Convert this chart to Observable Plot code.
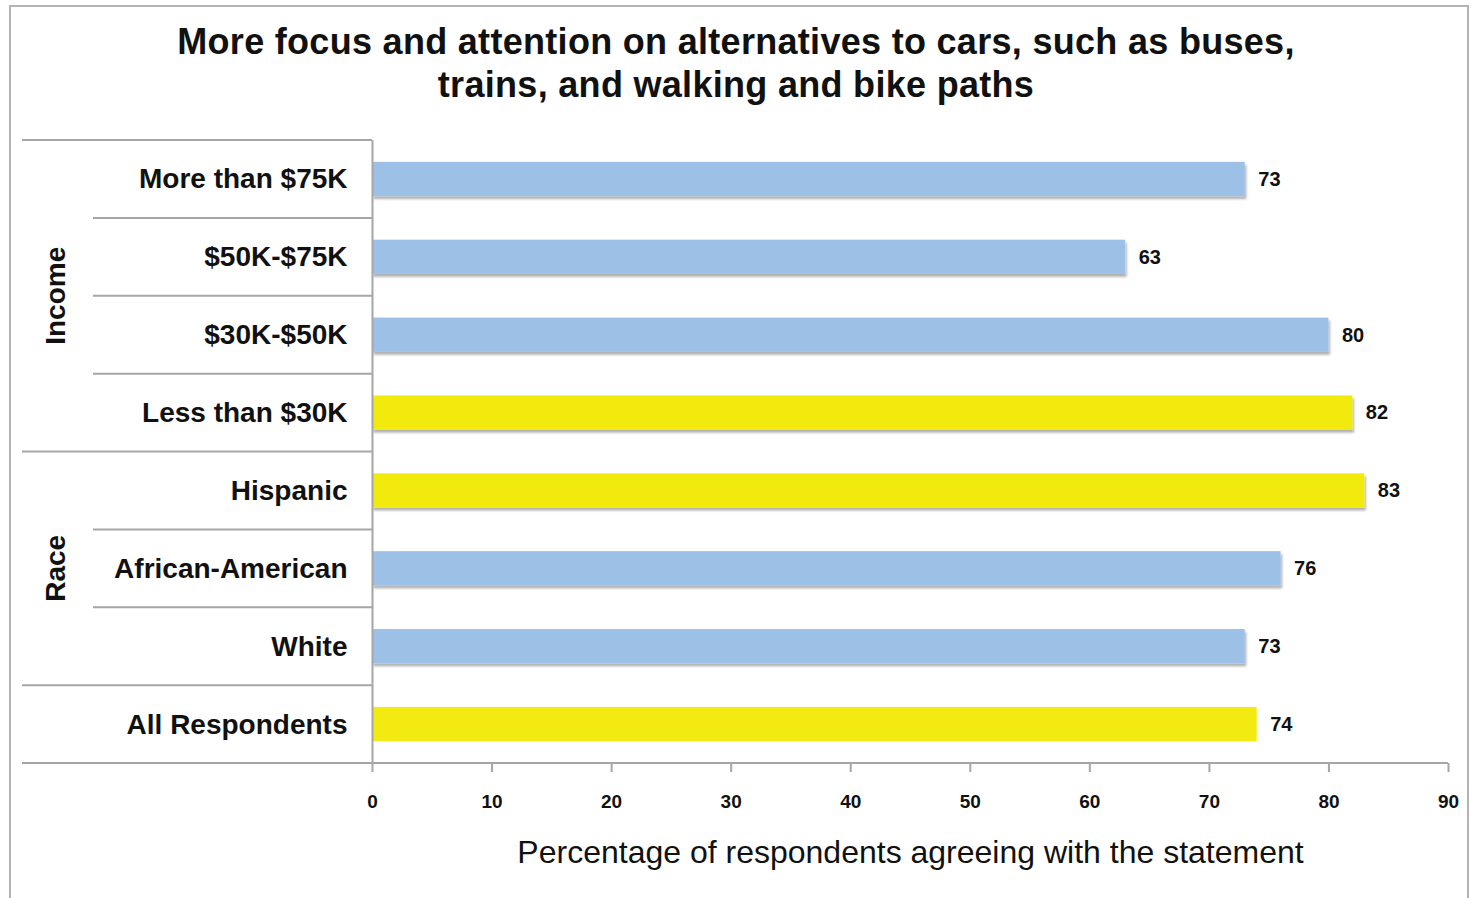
<!DOCTYPE html>
<html>
<head>
<meta charset="utf-8">
<script src="https://cdn.jsdelivr.net/npm/d3@7"></script>
<script src="https://cdn.jsdelivr.net/npm/@observablehq/plot@0.6"></script>
<style>
  html, body { margin: 0; padding: 0; background: #fff; width: 1472px; height: 898px; overflow: hidden; }
  #frame { position: absolute; left: 9px; top: 5px; width: 1460px; height: 920px; border: 2px solid #b4b4b4; box-sizing: border-box; }
  #title { position: absolute; left: 0; top: 20px; width: 1472px; text-align: center;
           font-family: "Liberation Sans", Arial, sans-serif; font-weight: bold; font-size: 36px; line-height: 43px; color: #111; letter-spacing: 0.3px; }
  #chart { position: absolute; left: 0; top: 120px; }
</style>
</head>
<body>
<div id="frame"></div>
<div id="title">More focus and attention on alternatives to cars, such as buses,<br>trains, and walking and bike paths</div>
<div id="chart"></div>
<script>
const categories = ["More than $75K", "$50K-$75K", "$30K-$50K", "Less than $30K", "Hispanic", "African-American", "White", "All Respondents"];
const values = [73, 63, 80, 82, 83, 76, 73, 74];
const highlighted = [false, false, false, true, true, false, false, true];
const groups = ["Income", "Income", "Income", "Income", "Race", "Race", "Race", ""];
const xTicks = [0, 10, 20, 30, 40, 50, 60, 70, 80, 90];
const xLabel = "Percentage of respondents agreeing with the statement";

const BLUE = "#9dc1e6";
const YELLOW = "#f2ea10";
const GRID = "#a6a6a6";

const data = categories.map((c, i) => ({category: c, value: values[i], hi: highlighted[i], group: groups[i]}));

const plot = Plot.plot({
  width: 1472,
  height: 778,
  marginTop: 20,
  marginBottom: 135,
  marginLeft: 372,
  marginRight: 24,
  style: {fontFamily: "'Liberation Sans', Arial, sans-serif", color: "#111", background: "transparent"},
  x: {domain: [0, 90]},
  y: {domain: categories, paddingInner: 0.56, paddingOuter: 0.28, round: false},
  marks: [
    Plot.barX(data, {x: "value", y: "category", fill: d => d.hi ? YELLOW : BLUE, className: "bars"}),
    Plot.text(data, {x: "value", y: "category", text: d => String(d.value), dx: 13, textAnchor: "start",
      fontSize: 20, fontWeight: "bold", fill: "#111"}),
    Plot.ruleX([0], {stroke: GRID, strokeWidth: 2}),
    Plot.axisX({ticks: xTicks, tickSize: 9, tickPadding: 22, stroke: GRID, strokeWidth: 2,
      fontSize: 19, fontWeight: "bold", label: xLabel, labelAnchor: "center", labelOffset: 99, labelArrow: "none"}),
    Plot.axisY({tickSize: 0, tickPadding: 25, fontSize: 28, fontWeight: "bold", label: null})
  ]
});

document.getElementById("chart").appendChild(plot);

const svg = d3.select(plot);
svg.select('g[aria-label="x-axis label"]').selectAll("text")
  .attr("font-size", 32).attr("font-weight", "normal").attr("fill", "#111");

// bar shadow
const defs = svg.insert("defs", ":first-child");
const f = defs.append("filter").attr("id", "shadow").attr("x", "-5%").attr("y", "-30%").attr("width", "110%").attr("height", "170%");
f.append("feDropShadow").attr("dx", 1.5).attr("dy", 3).attr("stdDeviation", 1.2).attr("flood-color", "#000").attr("flood-opacity", 0.3);
svg.selectAll("g.bars rect").filter(d => data[d] && data[d].group !== "").attr("filter", "url(#shadow)");

// separators and group labels from the y scale
const ys = plot.scale("y");
const step = ys.step;
const center = c => ys.apply(c) + ys.bandwidth / 2;
const bounds = categories.map(c => center(c) - step / 2).concat([center(categories[categories.length - 1]) + step / 2]);
const xs = plot.scale("x");
const lines = svg.append("g").attr("stroke", GRID).attr("stroke-width", 2);
bounds.forEach((b, i) => {
  const groupEdge = i === 0 || i === bounds.length - 1 || groups[i] !== groups[i - 1];
  const x1 = groupEdge ? 22 : 93;
  const x2 = i === bounds.length - 1 ? xs.apply(90) : xs.apply(0);
  lines.append("line").attr("x1", x1).attr("x2", x2).attr("y1", b).attr("y2", b);
});
svg.selectAll('g[aria-label="x-axis tick"] path').attr("stroke", GRID);

const groupNames = Array.from(new Set(groups.filter(g => g)));
groupNames.forEach(g => {
  const idx = groups.map((v, i) => v === g ? i : -1).filter(i => i >= 0);
  const yMid = (bounds[idx[0]] + bounds[idx[idx.length - 1] + 1]) / 2;
  svg.append("text").attr("transform", `translate(55,${yMid}) rotate(-90)`)
    .attr("text-anchor", "middle").attr("dy", "0.35em")
    .attr("font-size", 28).attr("font-weight", "bold").attr("fill", "#111").text(g);
});
</script>
</body>
</html>
